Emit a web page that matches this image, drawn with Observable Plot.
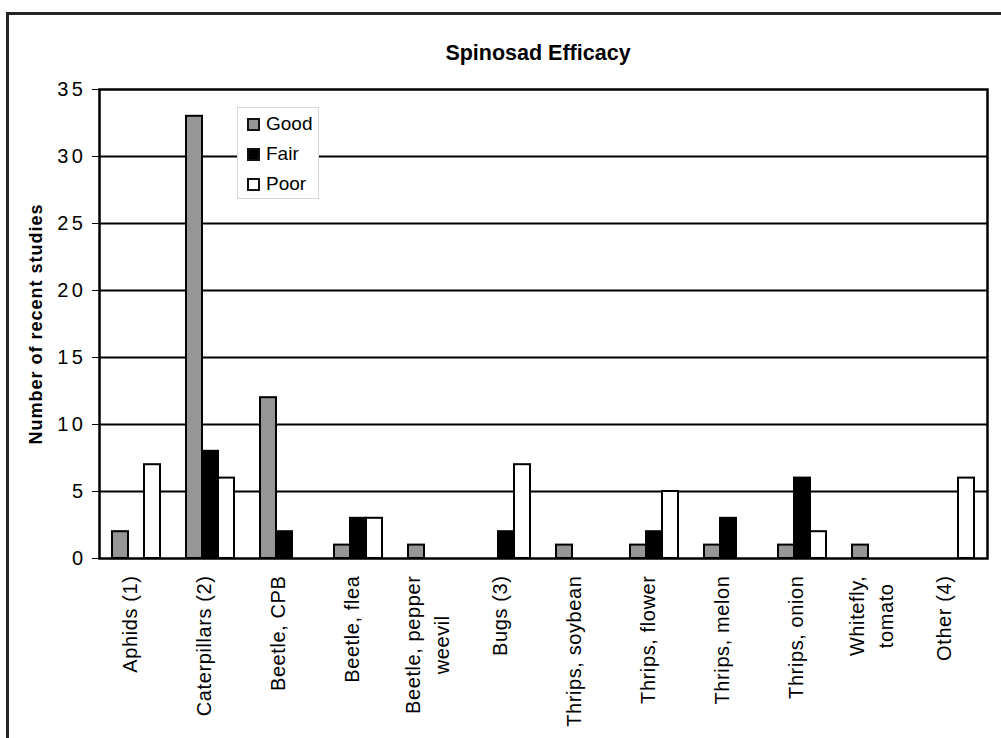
<!DOCTYPE html>
<html>
<head>
<meta charset="utf-8">
<script src="https://cdn.jsdelivr.net/npm/d3@7"></script>
<script src="https://cdn.jsdelivr.net/npm/@observablehq/plot@0.6"></script>
<style>
  body { margin: 0; background: #fff; font-family: "Liberation Sans", Arial, Helvetica, sans-serif; }
  #wrap { position: relative; width: 1001px; height: 738px; overflow: hidden; background: #fff; }
  #border { position: absolute; left: 6px; top: 12px; width: 1100px; height: 900px; border: 3px solid #262626; box-sizing: border-box; pointer-events: none; }
  #title { position: relative; margin: 0; padding: 41px 0 0 75px; height: 24px; line-height: 24px; text-align: center; font-weight: bold; font-size: 21.5px; color: #000; }
  #wrap svg { display: block; }
  g[aria-label="y-axis tick label"], g[aria-label="y-axis tick label"] text { letter-spacing: 3.5px; font-size: 20px; }
  g[aria-label="y-axis label"], g[aria-label="y-axis label"] text { font-weight: bold; font-size: 18px; letter-spacing: 1px; }
  g[aria-label="text"] text { letter-spacing: 0.6px; }
  #legend { position: absolute; left: 237px; top: 107px; width: 82px; height: 92px; box-sizing: border-box; border: 1px solid #d6d6d6; background: #fff; padding-top: 1px; }
  .lrow { display: flex; align-items: center; height: 30px; }
  .sw { width: 13px; height: 13px; box-sizing: border-box; border: 2px solid #111; margin-left: 9px; margin-right: 6px; }
  .lt { font-size: 19px; color: #000; }
</style>
</head>
<body>
<div id="wrap">
  <div id="title">Spinosad Efficacy</div>
  <div id="legend"></div>
  <div id="border"></div>
</div>
<script>
const categories = ["Aphids (1)", "Caterpillars (2)", "Beetle, CPB", "Beetle, flea", "Beetle, pepper weevil", "Bugs (3)", "Thrips, soybean", "Thrips, flower", "Thrips, melon", "Thrips, onion", "Whitefly, tomato", "Other (4)"];
const categoryLabels = ["Aphids (1)", "Caterpillars (2)", "Beetle, CPB", "Beetle, flea", "Beetle, pepper\nweevil", "Bugs (3)", "Thrips, soybean", "Thrips, flower", "Thrips, melon", "Thrips, onion", "Whitefly,\ntomato", "Other (4)"];
const series = ["Good", "Fair", "Poor"];
const good = [2, 33, 12, 1, 1, 0, 1, 1, 1, 1, 1, 0];
const fair = [0, 8, 2, 3, 0, 2, 0, 2, 3, 6, 0, 0];
const poor = [7, 6, 0, 3, 0, 7, 0, 5, 0, 2, 0, 6];
const colors = ["#969696", "#000000", "#ffffff"];
const yTicks = [0, 5, 10, 15, 20, 25, 30, 35];
const yLabel = "Number of recent studies";

const seriesValues = [good, fair, poor];
const rows = [];
categories.forEach((c, i) => {
  seriesValues.forEach((arr, j) => {
    if (arr[i] > 0) rows.push({category: c, series: series[j], value: arr[i]});
  });
});

const plot = Plot.plot({
  width: 1001,
  height: 673,
  marginLeft: 97,
  marginRight: 13,
  marginTop: 24,
  marginBottom: 180,
  style: {fontFamily: '"Liberation Sans", Arial, Helvetica, sans-serif', fontSize: "19px", color: "black", background: "transparent"},
  fx: {domain: categories, paddingInner: 0, paddingOuter: 0, axis: null, label: null},
  x: {domain: series, paddingInner: 0, paddingOuter: 0.75, axis: null, label: null},
  y: {domain: [0, 35], ticks: yTicks, tickSize: 7, tickPadding: 6, label: yLabel, labelAnchor: "center", labelOffset: 70, labelArrow: false},
  color: {domain: series, range: colors},
  marks: [
    Plot.ruleY(yTicks.filter(v => v > 0 && v < 35), {stroke: "black", strokeWidth: 2}),
    Plot.barY(rows, {fx: "category", x: "series", y: "value", fill: "series", stroke: "black", strokeWidth: 2}),
    Plot.text(categories, {fx: d => d, text: (d, i) => categoryLabels[i], frameAnchor: "bottom", rotate: -90, textAnchor: "end", dy: 17, lineHeight: 1.45, fontSize: 20, fill: "black"}),
    Plot.frame({stroke: "black", strokeWidth: 2.5, facet: "super"})
  ]
});

const wrap = document.getElementById("wrap");
wrap.insertBefore(plot, document.getElementById("legend"));

// center the lines of two-line category labels on each other and on the category
plot.querySelectorAll('g[aria-label="text"] text').forEach(t => {
  const spans = t.querySelectorAll("tspan");
  if (spans.length < 2) return;
  const lens = Array.from(spans, s => s.getComputedTextLength());
  const m = Math.max(...lens);
  spans.forEach((s, k) => s.setAttribute("x", -(m - lens[k]) / 2));
  t.setAttribute("transform", (t.getAttribute("transform") || "") + " translate(0,16)");
});

// legend built from the same series and colours
const legend = document.getElementById("legend");
series.forEach((s, i) => {
  const row = document.createElement("div");
  row.className = "lrow";
  const sw = document.createElement("div");
  sw.className = "sw";
  sw.style.background = colors[i];
  const lt = document.createElement("span");
  lt.className = "lt";
  lt.textContent = s;
  row.appendChild(sw);
  row.appendChild(lt);
  legend.appendChild(row);
});
</script>
</body>
</html>
